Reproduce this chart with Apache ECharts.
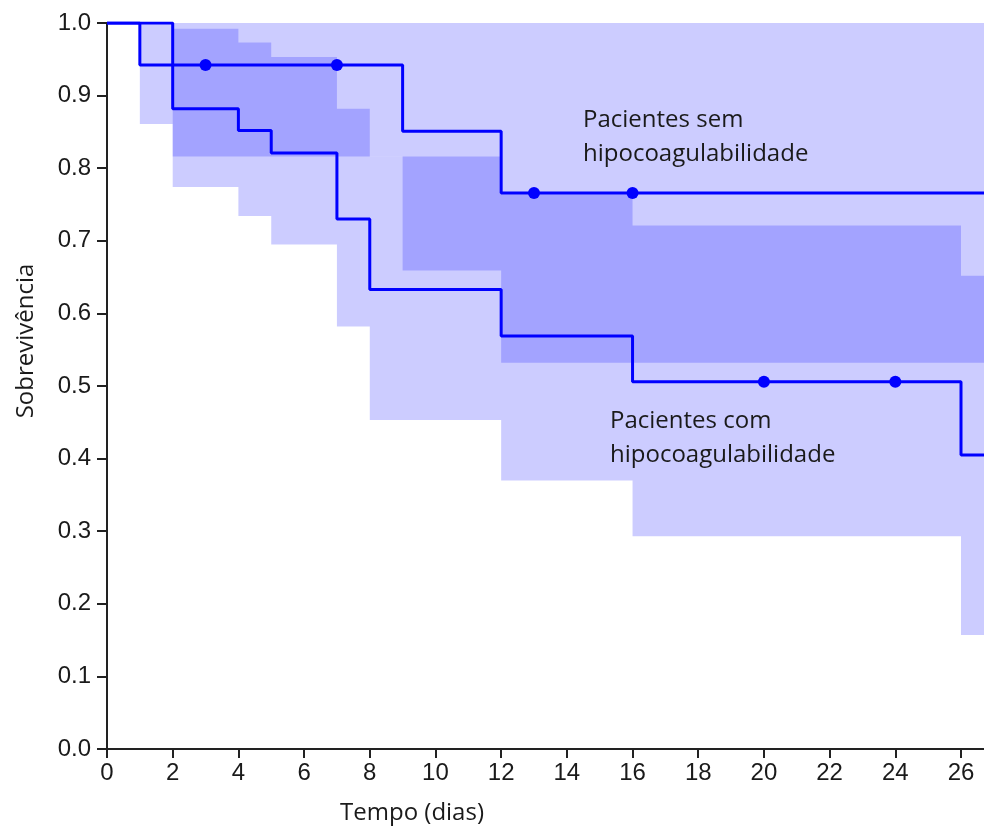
<!DOCTYPE html>
<html>
<head>
<meta charset="utf-8">
<script src="https://cdn.jsdelivr.net/npm/echarts@6/dist/echarts.min.js"></script>
<style>
html,body{margin:0;padding:0;background:#fff;}
#chart{width:984px;height:827px;}
</style>
</head>
<body>
<div id="chart"></div>
<script>
// ---- Data ----
const xMax = 26.7;
const xTicks = [0, 2, 4, 6, 8, 10, 12, 14, 16, 18, 20, 22, 24, 26];

// Kaplan-Meier step curve: patients without hypocoagulability
const semX = [0, 1, 9, 12];
const semY = [1.0, 0.942, 0.851, 0.766];
const semCensorX = [3, 7, 13, 16];
// confidence band
const semBandX = [0, 1, 2, 9, 12];
const semLo = [1.0, 0.861, 0.816, 0.659, 0.532];
const semHi = [1.0, 1.0, 1.0, 1.0, 1.0];

// Kaplan-Meier step curve: patients with hypocoagulability
const comX = [0, 2, 4, 5, 7, 8, 12, 16, 26];
const comY = [1.0, 0.882, 0.852, 0.821, 0.730, 0.633, 0.569, 0.506, 0.405];
const comCensorX = [20, 24];
// confidence band
const comBandX = [0, 2, 4, 5, 7, 8, 12, 16, 26];
const comLo = [1.0, 0.774, 0.734, 0.695, 0.582, 0.453, 0.370, 0.293, 0.157];
const comHi = [1.0, 0.992, 0.973, 0.953, 0.882, 0.816, 0.764, 0.721, 0.652];

const labelSem = ['Pacientes sem', 'hipocoagulabilidade'];
const labelCom = ['Pacientes com', 'hipocoagulabilidade'];
const xName = 'Tempo (dias)';
const yName = 'Sobrevivência';

// ---- helpers ----
function stepData(xs, ys) {
  const d = xs.map((x, i) => [x, ys[i]]);
  d.push([xMax, ys[ys.length - 1]]);
  return d;
}
function stepAt(xs, ys, x) {
  let v = ys[0];
  for (let i = 0; i < xs.length; i++) if (xs[i] <= x) v = ys[i];
  return v;
}
// step-shaped polygon (data space) between lower and upper bounds
function bandPolygon(xs, lo, hi) {
  const ends = xs.slice(1).concat([xMax]);
  const pts = [];
  for (let i = 0; i < xs.length; i++) { pts.push([xs[i], hi[i]]); pts.push([ends[i], hi[i]]); }
  for (let i = xs.length - 1; i >= 0; i--) { pts.push([ends[i], lo[i]]); pts.push([xs[i], lo[i]]); }
  return pts;
}

const bandFill = 'rgba(0,0,255,0.2)';
const lineBlue = '#0000ff';

function bandSeries(name, xs, lo, hi) {
  const poly = bandPolygon(xs, lo, hi);
  return {
    type: 'custom', name: name + '_band', silent: true, z: 1,
    data: [[0, 0]],
    renderItem: function (params, api) {
      return {
        type: 'polygon',
        shape: { points: poly.map(p => api.coord(p)) },
        style: { fill: bandFill, stroke: null }
      };
    }
  };
}

const chart = echarts.init(document.getElementById('chart'), null, { renderer: 'canvas' });

const tickFont = { fontFamily: 'Liberation Sans, Arial, sans-serif', fontSize: 24, color: '#1a1a1a' };
const textFont = '24px "Open Sans", "Noto Sans", sans-serif';

const option = {
  animation: false,
  backgroundColor: '#fff',
  grid: { left: 107, right: 0, top: 23, bottom: 78, containLabel: false },
  xAxis: {
    type: 'value', min: 0, max: xMax,
    splitLine: { show: false },
    axisLine: { show: true, onZero: false, lineStyle: { color: '#222', width: 2 } },
    axisTick: { show: true, length: 9, customValues: xTicks, lineStyle: { color: '#222', width: 2 } },
    axisLabel: Object.assign({ margin: 12, customValues: xTicks }, tickFont)
  },
  yAxis: {
    type: 'value', min: 0, max: 1, interval: 0.1,
    splitLine: { show: false },
    axisLine: { show: true, lineStyle: { color: '#222', width: 2 } },
    axisTick: { show: true, length: 10, lineStyle: { color: '#222', width: 2 } },
    axisLabel: Object.assign({ margin: 16, formatter: v => v.toFixed(1) }, tickFont)
  },
  series: [
    bandSeries('sem', semBandX, semLo, semHi),
    bandSeries('com', comBandX, comLo, comHi),
    {
      type: 'line', name: 'sem', step: 'end', data: stepData(semX, semY),
      symbol: 'none', lineStyle: { color: lineBlue, width: 3 }, z: 3, silent: true
    },
    {
      type: 'line', name: 'com', step: 'end', data: stepData(comX, comY),
      symbol: 'none', lineStyle: { color: lineBlue, width: 3 }, z: 3, silent: true
    },
    {
      type: 'scatter', name: 'sem_censor', symbol: 'circle', symbolSize: 12,
      data: semCensorX.map(x => [x, stepAt(semX, semY, x)]),
      itemStyle: { color: lineBlue, opacity: 1 }, z: 4, silent: true
    },
    {
      type: 'scatter', name: 'com_censor', symbol: 'circle', symbolSize: 12,
      data: comCensorX.map(x => [x, stepAt(comX, comY, x)]),
      itemStyle: { color: lineBlue, opacity: 1 }, z: 4, silent: true
    }
  ],
  graphic: [
    {
      type: 'text', x: 583, y: 103, z: 10,
      style: { text: labelSem.join('\n'), font: textFont, fill: '#1a1a1a', lineHeight: 34, align: 'left', verticalAlign: 'top' }
    },
    {
      type: 'text', x: 610, y: 404, z: 10,
      style: { text: labelCom.join('\n'), font: textFont, fill: '#1a1a1a', lineHeight: 34, align: 'left', verticalAlign: 'top' }
    },
    {
      type: 'text', x: 412, y: 796, z: 10,
      style: { text: xName, font: textFont, fill: '#1a1a1a', lineHeight: 34, align: 'center', verticalAlign: 'top' }
    },
    {
      type: 'text', x: 26, y: 341, rotation: Math.PI / 2, z: 10,
      style: { text: yName, font: textFont, fill: '#1a1a1a', align: 'center', verticalAlign: 'middle' }
    }
  ]
};
chart.setOption(option);
</script>
</body>
</html>
